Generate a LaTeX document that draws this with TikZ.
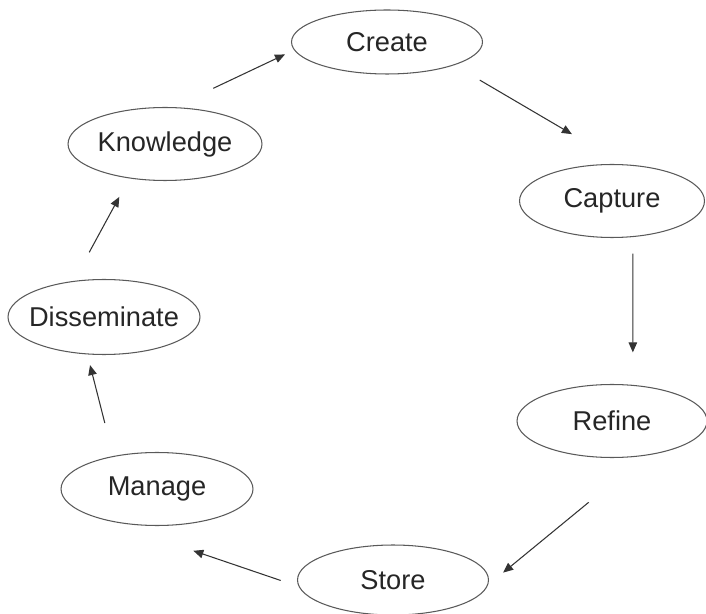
\documentclass[tikz,border=0pt]{standalone}
\usepackage{fontspec}
\setmainfont{Liberation Sans}
\usetikzlibrary{shapes.geometric, arrows.meta}

\begin{document}
\begin{tikzpicture}[
x=0.02cm, y=-0.02cm,
    stage/.style={ellipse, draw=black!65, line width=0.6pt, minimum width=3.84cm, minimum height=1.46cm, inner xsep=-0.3cm, inner ysep=0pt, font=\fontsize{15.5}{18}\selectfont, text=black!85},
    flow/.style={draw=black!80, line width=0.6pt, -{Triangle[length=0.2cm, width=0.17cm]}}
]
    \useasboundingbox (0,0) rectangle (706,614);

    % Stages of the cycle
    \node[stage, minimum width=3.82cm, minimum height=1.28cm] (create) at (387,42) {Create};
    \node[stage, minimum width=3.7cm] (capture) at (612,201) {Capture};
    \node[stage, minimum width=3.8cm] (refine) at (612,421) {Refine};
    \node[stage, minimum width=3.82cm, minimum height=1.4cm] (store) at (393,580) {Store};
    \node[stage] (manage) at (157,489) {Manage};
    \node[stage, minimum height=1.5cm] (disseminate) at (104,317) {Disseminate};
    \node[stage, minimum width=3.88cm] (knowledge) at (165,144) {Knowledge};

    % Arrows round the cycle
    \draw[flow, shorten <=0.88cm, shorten >=0.2cm] (knowledge.77) -- (create.185);
    \draw[flow, shorten <=0.59cm, shorten >=1.19cm] (create.-19) -- (capture.73);
    \draw[flow, shorten <=0.33cm, shorten >=0.65cm] (capture.-60) -- (refine.60);
    \draw[flow, shorten <=1.47cm, shorten >=0.39cm] (refine.-46) -- (store.-3);
    \draw[flow, shorten <=0.38cm, shorten >=2.21cm] (store.184) -- (manage.south west);
    \draw[flow, shorten <=0.68cm, shorten >=0.22cm] (manage.143) -- (disseminate.-114);
    \draw[flow, shorten <=0.65cm, shorten >=0.42cm] (disseminate.130) -- (knowledge.-136);

\end{tikzpicture}
\end{document}
